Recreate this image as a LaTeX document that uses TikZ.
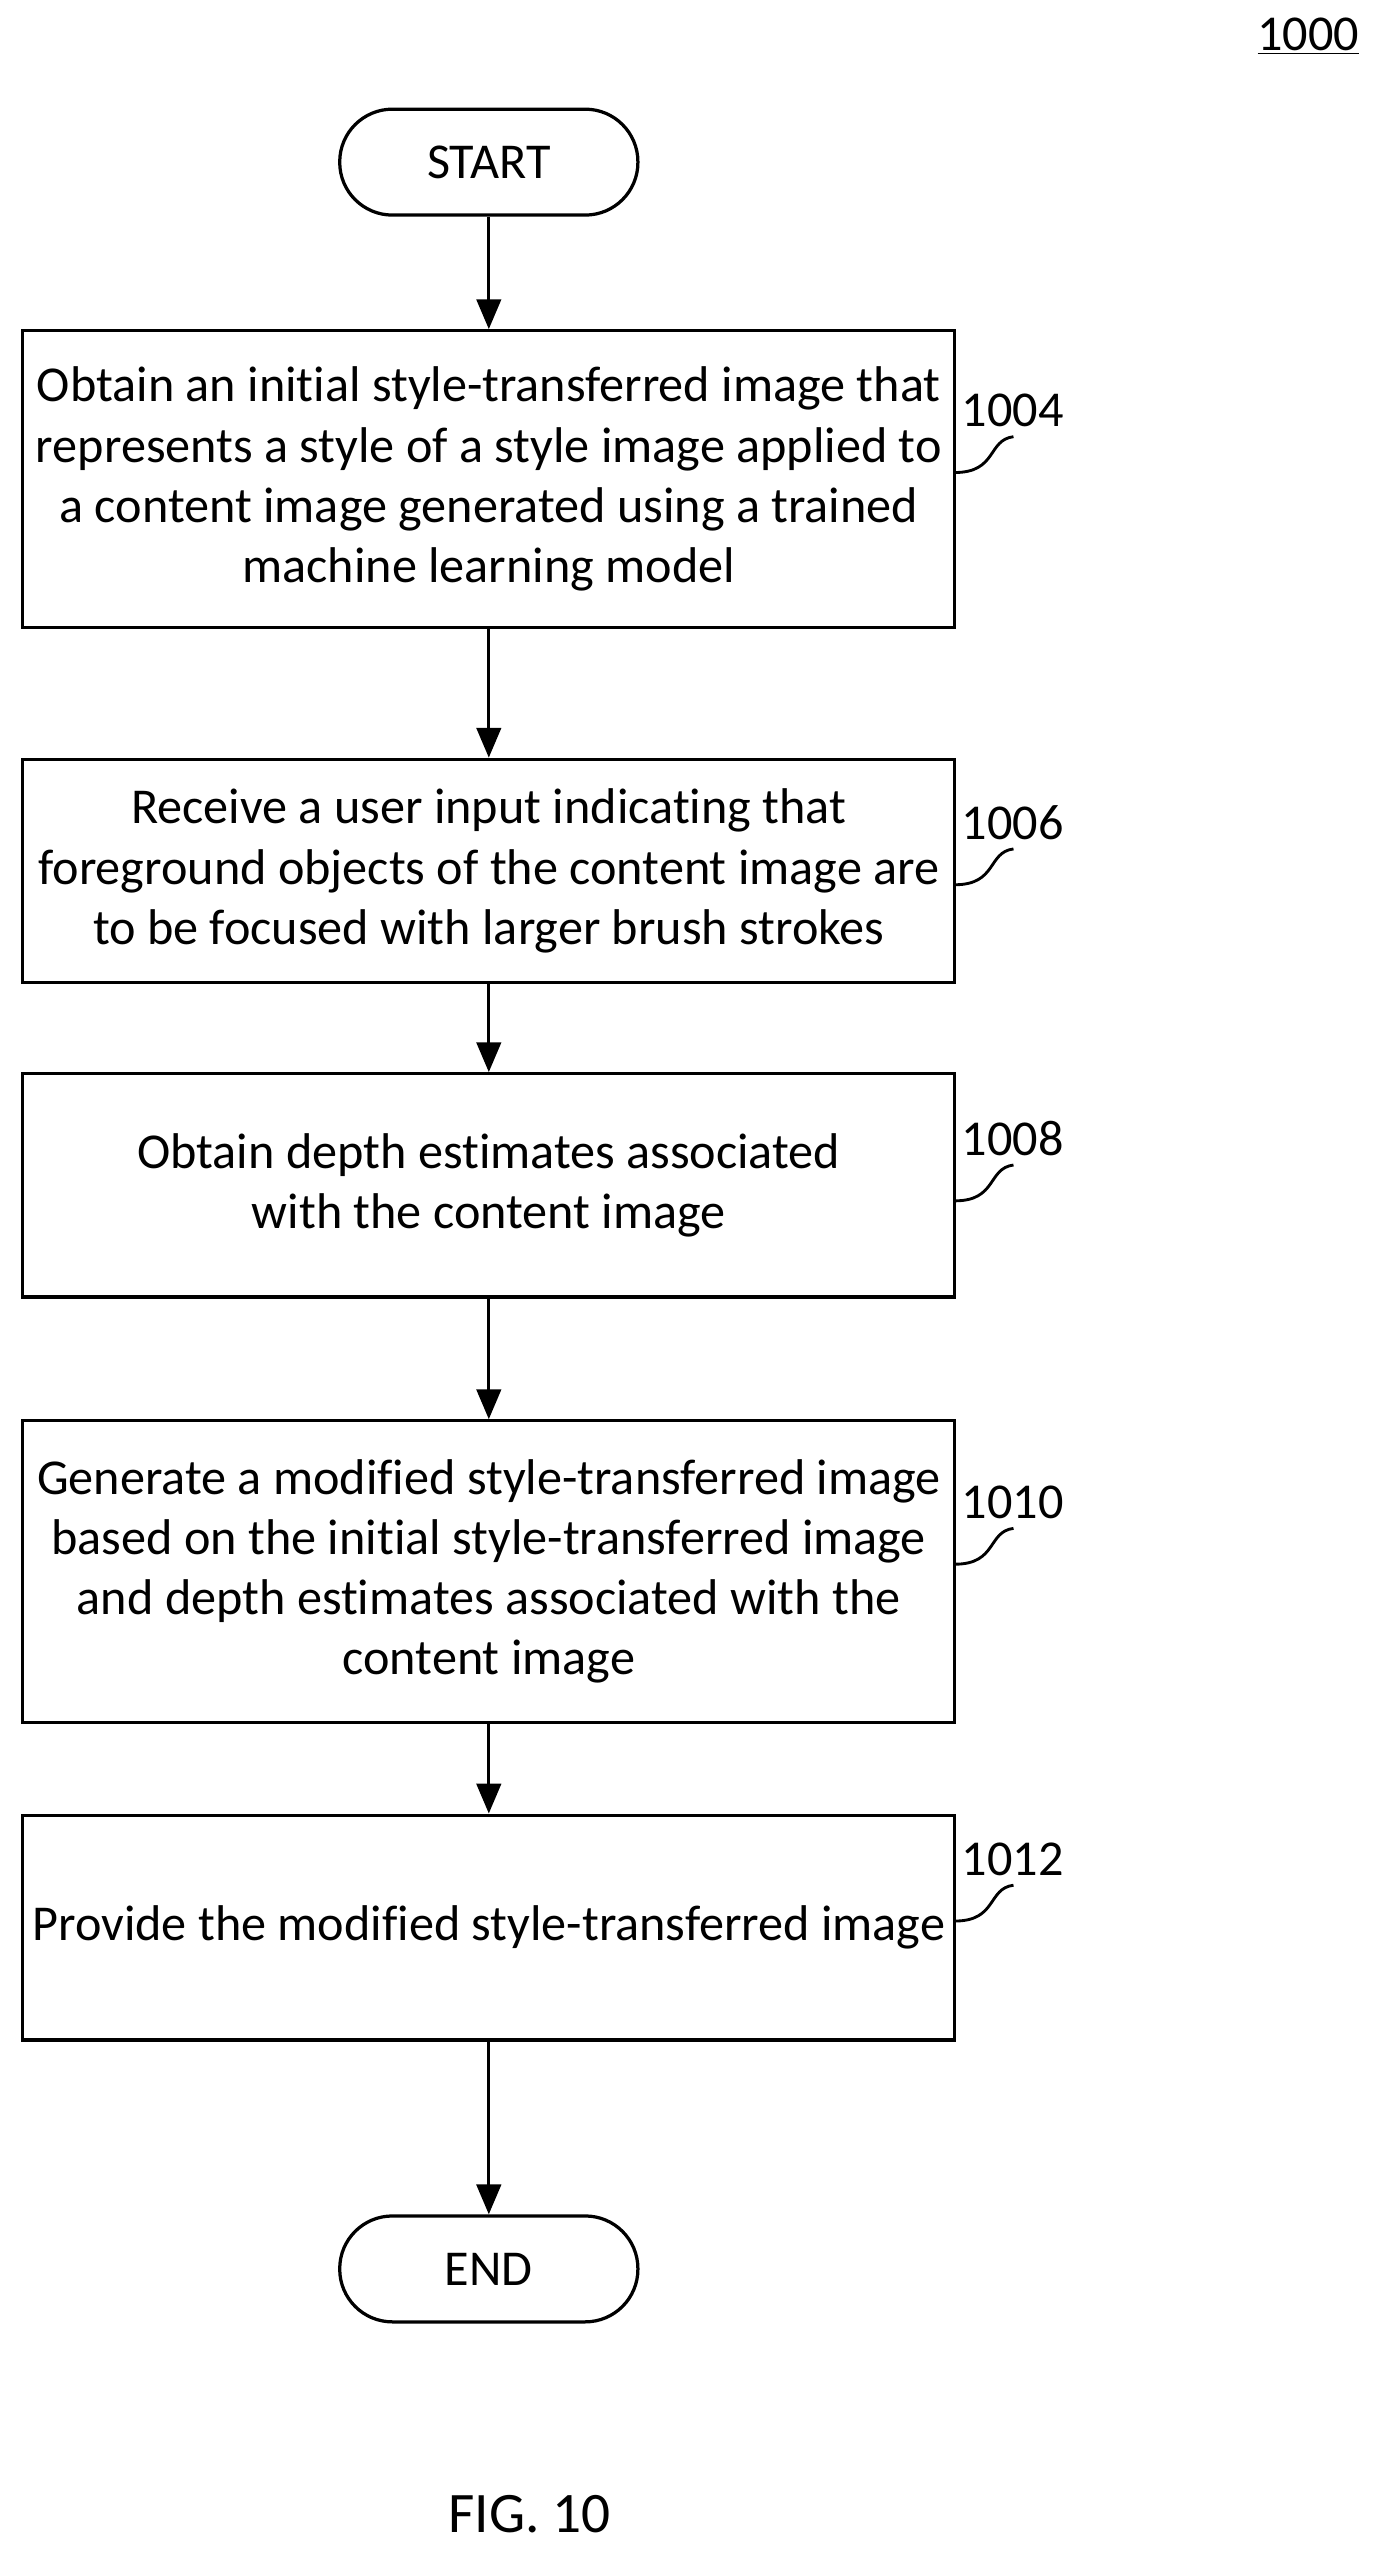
\documentclass[tikz,border=0pt]{standalone}
\usepackage{fontspec}
\setmainfont{Carlito}[Ligatures=NoCommon]
\usetikzlibrary{arrows.meta}
\begin{document}
\begin{tikzpicture}[x=0.03cm,y=-0.03cm,
  box/.style={draw,line width=1.7pt,minimum width=17.16cm,align=center,font=\fontsize{26.3}{31.5}\selectfont,inner sep=0pt},
  term/.style={draw,line width=1.7pt,rounded corners=0.97cm,minimum width=5.49cm,minimum height=1.95cm,font=\fontsize{26.3}{31.5}\selectfont},
  arr/.style={line width=1.7pt,-{Triangle[length=0.55cm,width=0.45cm]}},
  lab/.style={font=\fontsize{26.3}{31.5}\selectfont,anchor=west,inner sep=0pt},
  sq/.style={line width=1.5pt}]
\useasboundingbox (0,0) rectangle (850,1573);
\node[font=\fontsize{26.3}{31.5}\selectfont] (num) at (803,22) {\underline{1000}};
\node[term] (start) at (300,99.5) {START};
\node[box,minimum height=5.46cm] (b1) at (300,294) {Obtain an initial style-transferred image that\\represents a style of a style image applied to\\a content image generated using a trained\\machine learning model};
\node[box,minimum height=4.11cm] (b2) at (300,534.5) {Receive a user input indicating that\\foreground objects of the content image are\\to be focused with larger brush strokes};
\node[box,minimum height=4.11cm] (b3) at (300,727.5) {Obtain depth estimates associated\\with the content image};
\node[box,minimum height=5.55cm] (b4) at (300,964.5) {Generate a modified style-transferred image\\based on the initial style-transferred image\\and depth estimates associated with the\\content image};
\node[box,minimum height=4.14cm] (b5) at (300,1183) {Provide the modified style-transferred image};
\node[term] (end) at (300,1392.5) {END};
\draw[arr] (start) -- (b1);
\draw[arr] (b1) -- (b2);
\draw[arr] (b2) -- (b3);
\draw[arr] (b3) -- (b4);
\draw[arr] (b4) -- (b5);
\draw[arr] (b5) -- (end);
\foreach \n/\t/\y in {l1/1004/252,l2/1006/505,l3/1008/699,l4/1010/922,l5/1012/1141}{
  \node[lab] (\n) at (590,\y) {\t};
  \coordinate (\n s) at (586,\y+38);
  \draw[sq] (\n s) .. controls (612,\y+38) and (606,\y+18) .. (622,\y+16);
}
\node[font=\fontsize{30}{36}\selectfont] (fig) at (325,1543) {FIG. 10};
\end{tikzpicture}
\end{document}
